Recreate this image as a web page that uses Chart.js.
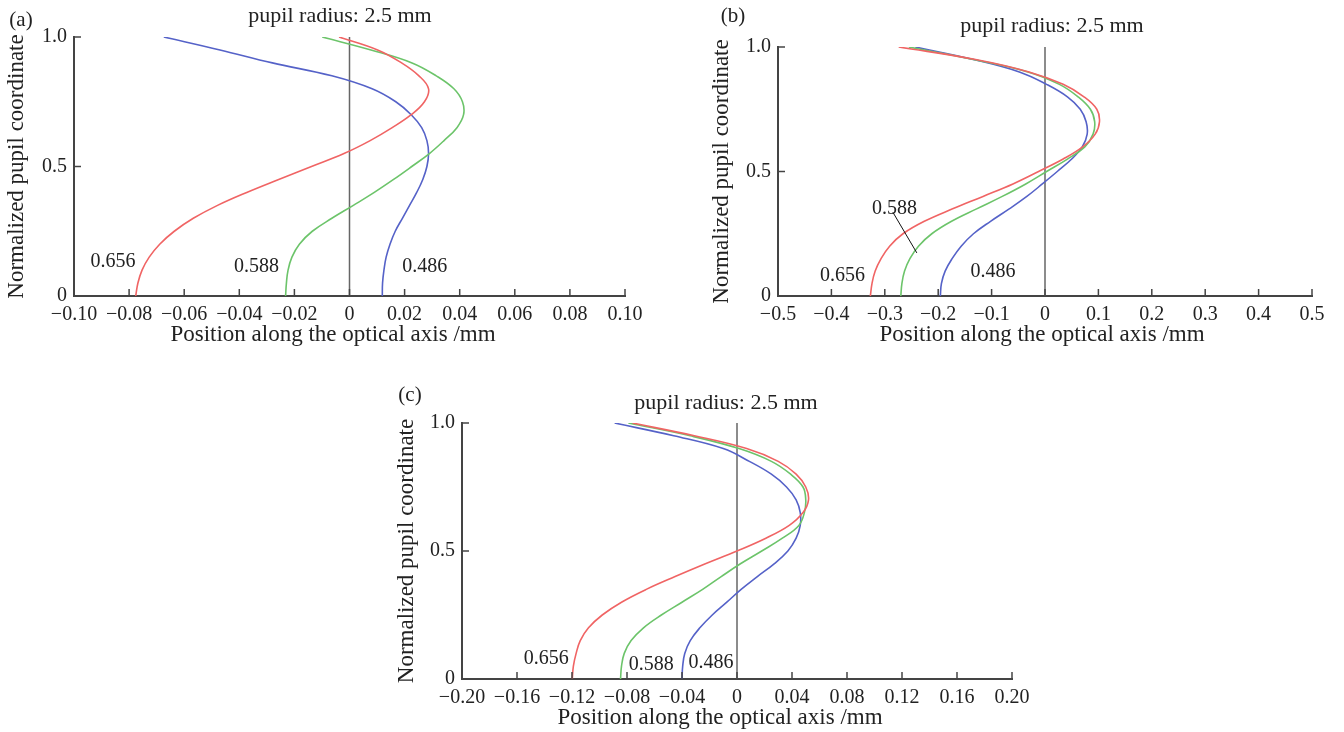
<!DOCTYPE html>
<html>
<head>
<meta charset="utf-8">
<script src="https://cdn.jsdelivr.net/npm/chart.js@4.4.0/dist/chart.umd.min.js"></script>
<style>
  html, body { margin: 0; padding: 0; background: #fff; }
  body { width: 1344px; height: 732px; position: relative; overflow: hidden; }
  canvas { position: absolute; }
</style>
</head>
<body>
<canvas id="chartA" width="665" height="350" style="left:0;top:0"></canvas>
<canvas id="chartB" width="639" height="350" style="left:705px;top:0"></canvas>
<canvas id="chartC" width="660" height="362" style="left:390px;top:370px"></canvas>
<script>
// normalized pupil coordinate (shared y values for every curve)
const pupilCoord = [0, 0.05, 0.1, 0.15, 0.2, 0.25, 0.3, 0.35, 0.4, 0.45, 0.5,
  0.55, 0.6, 0.65, 0.7, 0.75, 0.8, 0.85, 0.9, 0.95, 1.0];

const wavelengths = ["0.656", "0.588", "0.486"];
const yTicks = [0, 0.5, 1.0];

// (a) position along optical axis, mm
const posA656 = [-0.0776, -0.0768, -0.0753, -0.0727, -0.0689, -0.0636, -0.0567, -0.0479, -0.0373, -0.0257, -0.0138,
  -0.002, 0.0075, 0.0155, 0.0224, 0.0272, 0.0287, 0.0252, 0.0189, 0.0102, -0.0038];
const posA588 = [-0.0232, -0.0229, -0.0223, -0.0209, -0.0182, -0.0135, -0.0064, 0.0014, 0.009, 0.016, 0.0226,
  0.029, 0.0343, 0.039, 0.0414, 0.041, 0.0379, 0.0315, 0.0227, 0.0078, -0.0099];
const posA486 = [0.0119, 0.012, 0.0125, 0.0133, 0.0147, 0.0166, 0.0192, 0.0218, 0.0244, 0.0266, 0.0281,
  0.0287, 0.0281, 0.0262, 0.0224, 0.0168, 0.0082, -0.0064, -0.028, -0.047, -0.0674];
const xTicksA = [-0.10, -0.08, -0.06, -0.04, -0.02, 0, 0.02, 0.04, 0.06, 0.08, 0.10];

// (b)
const posB656 = [-0.327, -0.324, -0.318, -0.307, -0.291, -0.266, -0.226, -0.173, -0.116, -0.060, -0.012,
  0.034, 0.071, 0.094, 0.102, 0.097, 0.073, 0.034, -0.030, -0.130, -0.274];
const posB588 = [-0.270, -0.268, -0.263, -0.253, -0.237, -0.212, -0.175, -0.128, -0.080, -0.036, 0.003,
  0.042, 0.075, 0.090, 0.093, 0.085, 0.062, 0.027, -0.032, -0.134, -0.255];
const posB486 = [-0.196, -0.194, -0.187, -0.174, -0.157, -0.134, -0.102, -0.067, -0.034, -0.005, 0.023,
  0.050, 0.070, 0.079, 0.077, 0.066, 0.042, 0.003, -0.048, -0.134, -0.243];
const xTicksB = [-0.5, -0.4, -0.3, -0.2, -0.1, 0, 0.1, 0.2, 0.3, 0.4, 0.5];

// (c)
const posC656 = [-0.1198, -0.119, -0.117, -0.114, -0.108, -0.098, -0.084, -0.066, -0.045, -0.023, 0.0,
  0.021, 0.038, 0.048, 0.052, 0.050, 0.043, 0.030, 0.007, -0.031, -0.076];
const posC588 = [-0.0847, -0.084, -0.082, -0.077, -0.068, -0.055, -0.040, -0.025, -0.0115, 0.0025, 0.018,
  0.033, 0.045, 0.049, 0.050, 0.048, 0.039, 0.025, 0.0015, -0.034, -0.079];
const posC486 = [-0.040, -0.0395, -0.038, -0.034, -0.027, -0.018, -0.0074, 0.003, 0.0148, 0.027, 0.037,
  0.043, 0.046, 0.046, 0.043, 0.036, 0.025, 0.009, -0.010, -0.046, -0.089];
const xTicksC = [-0.20, -0.16, -0.12, -0.08, -0.04, 0, 0.04, 0.08, 0.12, 0.16, 0.20];

const colors = ["#f06464", "#6cc46a", "#5562c8"];
const FONT = "'Liberation Serif', 'Times New Roman', serif";
const INK = "#222";

// inward tick marks + panel texts
const decorPlugin = {
  id: "decor",
  afterDraw(chart, args, opts) {
    const { ctx, chartArea } = chart;
    const xs = chart.scales.x, ys = chart.scales.y;
    ctx.save();
    ctx.strokeStyle = "#444";
    ctx.lineWidth = 1.5;
    xs.ticks.forEach(t => {
      const px = xs.getPixelForValue(t.value);
      ctx.beginPath();
      ctx.moveTo(px, chartArea.bottom);
      ctx.lineTo(px, chartArea.bottom - 7);
      ctx.stroke();
    });
    ys.ticks.forEach(t => {
      const py = ys.getPixelForValue(t.value);
      ctx.beginPath();
      ctx.moveTo(chartArea.left, py);
      ctx.lineTo(chartArea.left + 7, py);
      ctx.stroke();
    });
    ctx.fillStyle = INK;
    ctx.textAlign = "center";
    ctx.textBaseline = "middle";
    ctx.font = "21px " + FONT;
    ctx.fillText(opts.letter, opts.letterPos[0], opts.letterPos[1]);
    ctx.font = "22px " + FONT;
    ctx.fillText("pupil radius: 2.5 mm", opts.titlePos[0], opts.titlePos[1]);
    ctx.font = "23px " + FONT;
    ctx.fillText("Position along the optical axis /mm", opts.xTitleX, chartArea.bottom + 39);
    ctx.font = "20px " + FONT;
    opts.notes.forEach(n => {
      ctx.fillText(n.text, xs.getPixelForValue(n.x), ys.getPixelForValue(n.y));
    });
    if (opts.leader) {
      const l = opts.leader;
      ctx.strokeStyle = "#111";
      ctx.lineWidth = 1;
      ctx.beginPath();
      ctx.moveTo(xs.getPixelForValue(l[0]), ys.getPixelForValue(l[1]));
      ctx.lineTo(xs.getPixelForValue(l[2]), ys.getPixelForValue(l[3]));
      ctx.stroke();
    }
    ctx.restore();
  }
};

const fmtX = d => v => Math.abs(v) < 1e-9 ? "0" : (v < 0 ? "\u2212" : "") + Math.abs(v).toFixed(d);

function makePanel(id, series, xTicks, decimals, box, decor) {
  const datasets = series.map((xs, i) => ({
    data: pupilCoord.map((y, k) => ({ x: xs[k], y: y })),
    borderColor: colors[i],
    borderWidth: 1.6,
    pointRadius: 0,
    tension: 0.4
  }));
  // optical axis marker at x = 0
  datasets.push({
    data: [{ x: 0, y: 0 }, { x: 0, y: 1 }],
    borderColor: "#666",
    borderWidth: 1.5,
    pointRadius: 0,
    tension: 0
  });
  const axisBorder = { display: true, color: "#444", width: 2 };
  return new Chart(document.getElementById(id), {
    type: "line",
    data: { datasets },
    plugins: [decorPlugin],
    options: {
      responsive: false,
      animation: false,
      indexAxis: "y",
      layout: { padding: { top: box.top, right: box.right, left: 0, bottom: 0 } },
      plugins: {
        legend: { display: false },
        tooltip: { enabled: false },
        decor
      },
      scales: {
        x: {
          type: "linear",
          position: "bottom",
          min: xTicks[0],
          max: xTicks[xTicks.length - 1],
          afterBuildTicks: s => { s.ticks = xTicks.map(v => ({ value: v })); },
          afterFit: s => { s.height = box.xAxisH; },
          grid: { drawOnChartArea: false, drawTicks: false },
          border: axisBorder,
          ticks: {
            padding: 7,
            color: INK,
            font: { family: FONT, size: 20 },
            maxRotation: 0,
            autoSkip: false,
            callback: fmtX(decimals)
          },
          title: { display: false }
        },
        y: {
          type: "linear",
          position: "left",
          min: 0,
          max: 1,
          afterBuildTicks: s => { s.ticks = yTicks.map(v => ({ value: v })); },
          afterFit: s => { s.width = box.yAxisW; },
          grid: { drawOnChartArea: false, drawTicks: false },
          border: axisBorder,
          ticks: {
            padding: 7,
            color: INK,
            font: { family: FONT, size: 20 },
            callback: v => v === 0 ? "0" : v.toFixed(1)
          },
          title: {
            display: true,
            text: "Normalized pupil coordinate",
            color: INK,
            font: { family: FONT, size: 23 },
            padding: { top: 3, bottom: 0 }
          }
        }
      }
    }
  });
}

makePanel("chartA", [posA656, posA588, posA486], xTicksA, 2,
  { top: 37, right: 40, xAxisH: 54, yAxisW: 74 },
  {
    letter: "(a)", letterPos: [21, 20], titlePos: [340, 16], xTitleX: 333,
    notes: [
      { text: wavelengths[0], x: -0.0858, y: 0.131 },
      { text: wavelengths[1], x: -0.0338, y: 0.112 },
      { text: wavelengths[2], x: 0.0273, y: 0.112 }
    ]
  });

makePanel("chartB", [posB656, posB588, posB486], xTicksB, 1,
  { top: 47, right: 32, xAxisH: 54, yAxisW: 73 },
  {
    letter: "(b)", letterPos: [28, 16], titlePos: [347, 26], xTitleX: 337,
    notes: [
      { text: wavelengths[1], x: -0.282, y: 0.349 },
      { text: wavelengths[0], x: -0.379, y: 0.080 },
      { text: wavelengths[2], x: -0.0975, y: 0.096 }
    ],
    leader: [-0.285, 0.337, -0.240, 0.173]
  });

makePanel("chartC", [posC656, posC588, posC486], xTicksC, 2,
  { top: 53, right: 38, xAxisH: 53, yAxisW: 72 },
  {
    letter: "(c)", letterPos: [20, 25], titlePos: [336, 33], xTitleX: 330,
    notes: [
      { text: wavelengths[0], x: -0.1387, y: 0.079 },
      { text: wavelengths[1], x: -0.0623, y: 0.056 },
      { text: wavelengths[2], x: -0.0189, y: 0.064 }
    ]
  });
</script>
</body>
</html>
